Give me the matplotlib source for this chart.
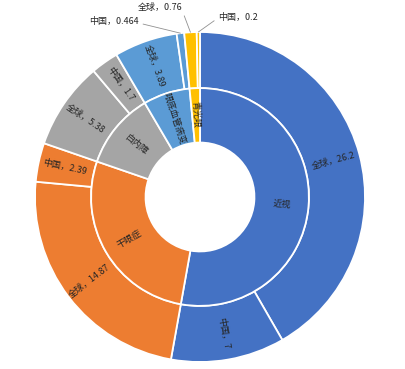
import numpy as np
import matplotlib
matplotlib.use('Agg')
import matplotlib.pyplot as plt

plt.rcParams['font.family'] = ['Noto Sans CJK SC', 'DejaVu Sans']

# inner ring: diseases
diseases = ['近视', '干眼症', '白内障', '眼底血管病变', '青光眼']
colors = ['#4472C4', '#ED7D31', '#A5A5A5', '#5B9BD5', '#FFC000']

# outer ring: global / china per disease
regions = ['全球', '中国']
global_vals = [26.2, 14.87, 5.38, 3.89, 0.76]
china_vals = [7, 2.39, 1.7, 0.464, 0.2]

outer_vals = []
outer_labels = []
outer_colors = []
for g, c, col in zip(global_vals, china_vals, colors):
    outer_vals += [g, c]
    outer_labels += [f'全球，{g:g}', f'中国，{c:g}']
    outer_colors += [col, col]
inner_vals = [g + c for g, c in zip(global_vals, china_vals)]

fig = plt.figure(figsize=(4.06, 3.69), dpi=100)
ax = fig.add_axes([0, 0, 1, 1])

wp = dict(edgecolor='white', linewidth=1.3)
outer, _ = ax.pie(outer_vals, radius=1.0, colors=outer_colors, startangle=90,
                  counterclock=False, wedgeprops=dict(width=0.34, **wp))
inner, _ = ax.pie(inner_vals, radius=0.66, colors=colors, startangle=90,
                  counterclock=False, wedgeprops=dict(width=0.33, **wp))

ax.set_xlim(-200 / 165, 206 / 165)
ax.set_ylim(-172 / 165, 197 / 165)
ax.set_aspect('auto')
ax.axis('off')

txt = dict(fontsize=6.5, color='#262626')


def radial_rot(ang):
    rot = ang
    while rot > 90:
        rot -= 180
    while rot < -90:
        rot += 180
    return rot


def mid_angle(w):
    return (w.theta1 + w.theta2) / 2


# inner labels
for w, name in zip(inner, diseases):
    a = mid_angle(w)
    r = 0.5
    ax.text(r * np.cos(np.radians(a)), r * np.sin(np.radians(a)), name,
            rotation=radial_rot(a), rotation_mode='anchor',
            ha='center', va='center', **txt)

# outer labels: the big ones inside the ring
for i, (w, lab) in enumerate(zip(outer, outer_labels)):
    if i >= 7:
        continue
    a = mid_angle(w)
    r = 0.84
    ax.text(r * np.cos(np.radians(a)), r * np.sin(np.radians(a)), lab,
            rotation=radial_rot(a), rotation_mode='anchor',
            ha='center', va='center', **txt)

# small ones outside with leader lines
small = {7: ((-0.37, 1.065), 'right', (1.0, 0.3)),
         8: ((-0.24, 1.15), 'center', (1.0, 0.0)),
         9: ((0.23, 1.085), 'center', (0.0, 0.5))}
for i, (pos, ha, rel) in small.items():
    w = outer[i]
    a = np.radians(mid_angle(w))
    ax.annotate(outer_labels[i], xy=(np.cos(a), np.sin(a)), xytext=pos,
                ha=ha, va='center',
                arrowprops=dict(arrowstyle='-', color='#909090', lw=0.6,
                                relpos=rel, shrinkA=1, shrinkB=0),
                **txt)

fig.savefig('out.png', dpi=100)
